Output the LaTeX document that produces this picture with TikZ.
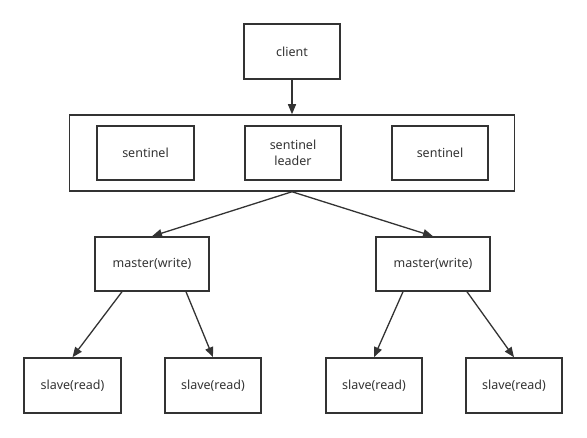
\documentclass[tikz,border=0pt]{standalone}
\usepackage{fontspec}
\setmainfont{Noto Sans}
\usetikzlibrary{arrows.meta}
\definecolor{ink}{HTML}{333333}
\begin{document}
\begin{tikzpicture}[x=1pt,y=-1pt,
  box/.style={draw=ink,line width=1.5pt,rectangle,inner sep=0pt,text=ink,font=\fontsize{12.5}{16}\selectfont,align=center},
  conn/.style={draw=ink,line width=1.3pt,-{Triangle[length=10pt,width=8pt]}}]
\useasboundingbox (0,0) rectangle (587,438);
\node[box,minimum width=96pt,minimum height=55pt] (client) at (292,51.5) {client};
\node[box,minimum width=445pt,minimum height=76pt] (group) at (292,153) {};
\node[box,minimum width=97pt,minimum height=54pt] (s1) at (145.5,153) {sentinel};
\node[box,minimum width=96pt,minimum height=54pt] (lead) at (293,153) {sentinel\\leader};
\node[box,minimum width=96pt,minimum height=54pt] (s3) at (440,153) {sentinel};
\node[box,minimum width=114pt,minimum height=54pt] (m1) at (152,264) {master(write)};
\node[box,minimum width=114pt,minimum height=54pt] (m2) at (433,264) {master(write)};
\node[box,minimum width=97pt,minimum height=55pt] (sl1) at (72.5,385.5) {slave(read)};
\node[box,minimum width=96pt,minimum height=55pt] (sl2) at (213,385.5) {slave(read)};
\node[box,minimum width=96pt,minimum height=55pt] (sl3) at (374,385.5) {slave(read)};
\node[box,minimum width=96pt,minimum height=55pt] (sl4) at (514,385.5) {slave(read)};
\draw[conn] (client.south) -- (group.north);
\draw[conn] (group.south) -- (m1.north);
\draw[conn] (group.south) -- (m2.north);
\draw[conn] ([xshift=-30pt]m1.south) -- (sl1.north);
\draw[conn] ([xshift=34pt]m1.south) -- (sl2.north);
\draw[conn] ([xshift=-30pt]m2.south) -- (sl3.north);
\draw[conn] ([xshift=34pt]m2.south) -- (sl4.north);
\end{tikzpicture}
\end{document}
